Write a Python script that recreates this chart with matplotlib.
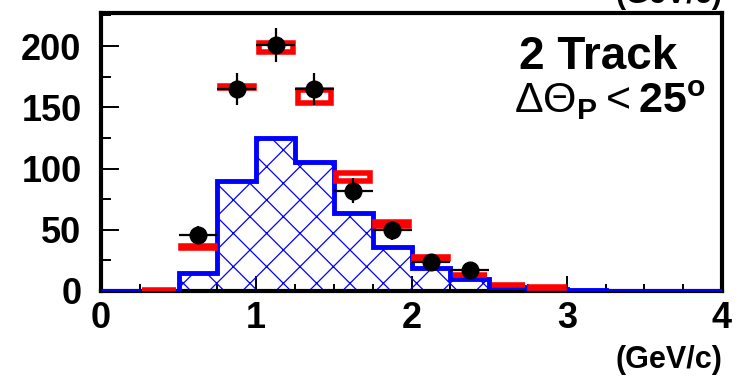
import numpy as np
import matplotlib
matplotlib.use("Agg")
import matplotlib.pyplot as plt
from matplotlib.patches import Rectangle
from matplotlib.ticker import MultipleLocator

plt.rcParams['font.family'] = ['Liberation Sans', 'DejaVu Sans']
plt.rcParams['font.weight'] = 'bold'
plt.rcParams['mathtext.fontset'] = 'custom'
plt.rcParams['mathtext.rm'] = 'Liberation Sans:normal'
plt.rcParams['mathtext.bf'] = 'Liberation Sans:bold'
plt.rcParams['mathtext.it'] = 'Liberation Sans:italic'
plt.rcParams['hatch.linewidth'] = 0.9

# blue simulated histogram, 0.25 GeV/c bins from 0 to 4
edges = np.arange(0, 4.001, 0.25)
sim_counts = [0, 0, 14.5, 90, 125, 105, 64, 36, 19, 9.5, 3, 2, 1, 0, 0, 0]

# red systematic boxes (bin low edge, lower value, upper value)
box_lo_edge = [0.25, 0.5, 0.75, 1.0, 1.25, 1.5, 1.75, 2.0, 2.25, 2.5, 2.75]
box_lo = [0.8, 35, 165.6, 195.4, 153.2, 90, 52.7, 26.2, 12.7, 4.8, 2.8]
box_hi = [1.2, 37, 167, 202.8, 163.8, 96.2, 56.2, 27.9, 13.3, 5.2, 3.2]

# black data points
data_x = [0.625, 0.875, 1.125, 1.375, 1.625, 1.875, 2.125, 2.375]
data_y = [46, 165, 201, 165, 82, 49.5, 23.5, 17]
data_err = [7, 13, 14, 13, 10, 8, 5, 4]

fig = plt.figure(figsize=(7.38, 3.79), dpi=100)
ax = fig.add_axes([101/738, 1 - 291/379, 621/738, 278/379])

# hatched fill then thick outline
ax.stairs(sim_counts, edges, fill=True, facecolor='none', edgecolor='blue',
          hatch='x', linewidth=0, zorder=2)
ax.stairs(sim_counts, edges, color='blue', linewidth=3.5, zorder=3,
          baseline=0)

inset = 0.016  # keep the thick red edge inside the bin horizontally
for x0, lo, hi in zip(box_lo_edge, box_lo, box_hi):
    ax.add_patch(Rectangle((x0 + inset, lo), 0.25 - 2 * inset, hi - lo,
                           facecolor='none', edgecolor='red', linewidth=4,
                           joinstyle='miter', zorder=4))

ax.errorbar(data_x, data_y, yerr=data_err, xerr=0.125, fmt='o', color='black',
            markersize=12, elinewidth=1.6, capsize=0, zorder=5)

ax.set_xlim(0, 4)
ax.set_ylim(0, 227)

ax.xaxis.set_major_locator(MultipleLocator(1))
ax.xaxis.set_minor_locator(MultipleLocator(0.25))
ax.yaxis.set_major_locator(MultipleLocator(50))
ax.yaxis.set_minor_locator(MultipleLocator(25))
ax.tick_params(axis='both', which='both', direction='in', labelsize=26,
               top=False, right=False)
ax.tick_params(axis='x', which='major', length=11, width=1.4, pad=7)
ax.tick_params(axis='x', which='minor', length=5, width=1.4)
ax.tick_params(axis='y', which='major', length=13, width=1.4, pad=14)
ax.tick_params(axis='y', which='minor', length=7, width=1.4)
for lab in ax.get_xticklabels() + ax.get_yticklabels():
    lab.set_fontweight('bold')

for sp in ax.spines.values():
    sp.set_linewidth(3)

ax.text(3.2, 181.5, '2 Track', fontsize=33, fontweight='bold', ha='center',
        va='baseline')
ax.text(3.28, 145, r'$\Delta\Theta_{\mathbf{P}} < \mathbf{25^{o}}$',
        fontsize=31, ha='center', va='baseline')

fig.text(722/738, 1 - 368/379, '(GeV/c)', fontsize=22, fontweight='bold',
         ha='right', va='baseline')
fig.text(722/738, 1 - 3/379, '(GeV/c)', fontsize=22, fontweight='bold',
         ha='right', va='baseline')

fig.savefig('out.png', dpi=100)
